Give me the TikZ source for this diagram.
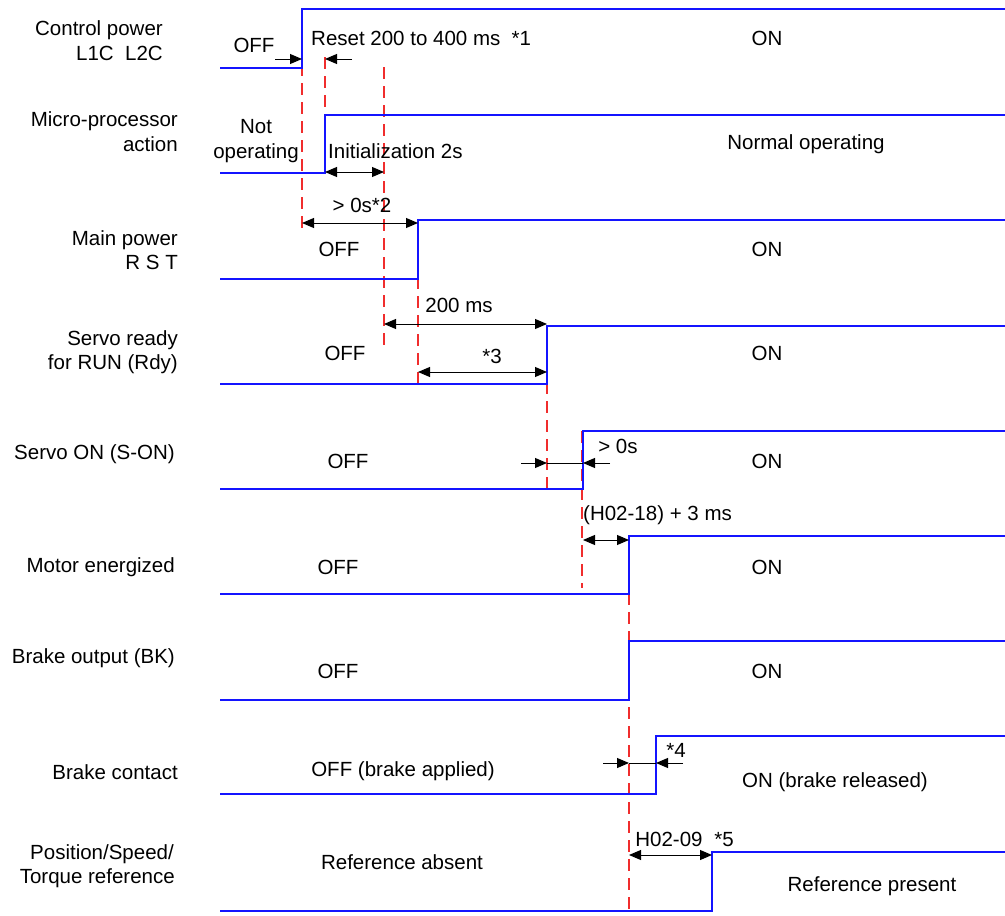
\documentclass[tikz,border=0pt]{standalone}
\usepackage{fontspec}
\setmainfont{Liberation Sans}
\usetikzlibrary{arrows.meta}
\definecolor{sig}{RGB}{20,20,255}
\definecolor{guidered}{RGB}{240,45,45}
\tikzset{
  sigline/.style={draw=sig,line width=2pt},
  guide/.style={draw=guidered,line width=1.2pt,dash pattern=on 12pt off 7pt},
  dim/.style={draw=black,line width=1pt,{Triangle[length=12pt,width=10pt]}-{Triangle[length=12pt,width=10pt]}},
  ptr/.style={draw=black,line width=1pt,-{Triangle[length=12pt,width=10pt]}},
  plainline/.style={draw=black,line width=1pt},
  lbl/.style={inner sep=0pt,anchor=base east},
  txt/.style={inner sep=0pt,anchor=base},
  txtw/.style={inner sep=0pt,anchor=base west},
}
\begin{document}
\begin{tikzpicture}[x=1pt,y=-1pt,every node/.style={font=\fontsize{20.5}{24}\selectfont}]
\useasboundingbox (0,0) rectangle (1005,916);

% guide lines (red dashed)
\draw[guide] (302,45) -- (302,233);
\draw[guide] (325,57) -- (325,173);
\draw[guide] (384,67) -- (384,350);
\draw[guide] (418,220) -- (418,388);
\draw[guide] (547,325) -- (547,488);
\draw[guide] (582,431) -- (582,588);
\draw[guide] (629,536) -- (629,916);

% signals
\draw[sigline] (220,68) -- (302,68) -- (302,9) -- (1005,9);
\draw[sigline] (220,173) -- (325,173) -- (325,115) -- (1005,115);
\draw[sigline] (220,279) -- (418,279) -- (418,220) -- (1005,220);
\draw[sigline] (220,384) -- (547,384) -- (547,326) -- (1005,326);
\draw[sigline] (220,489) -- (583,489) -- (583,431) -- (1005,431);
\draw[sigline] (220,594) -- (629,594) -- (629,536) -- (1005,536);
\draw[sigline] (220,700) -- (629,700) -- (629,641) -- (1005,641);
\draw[sigline] (220,794) -- (656,794) -- (656,736) -- (1005,736);
\draw[sigline] (220,911) -- (712,911) -- (712,852) -- (1005,852);

% left labels
\node[lbl] (l1a) at (163,35) {Control power};
\node[lbl] (l1b) at (163,60) {L1C\ \ L2C};
\node[lbl] (l2a) at (178,126) {Micro-processor};
\node[lbl] (l2b) at (178,151) {action};
\node[lbl] (l3a) at (178,245) {Main power};
\node[lbl] (l3b) at (178,269) {R S T};
\node[lbl] (l4a) at (178,345) {Servo ready};
\node[lbl] (l4b) at (178,369) {for RUN (Rdy)};
\node[lbl] (l5) at (175,459) {Servo ON (S-ON)};
\node[lbl] (l6) at (175,572) {Motor energized};
\node[lbl] (l7) at (175,663) {Brake output (BK)};
\node[lbl] (l8) at (178,779) {Brake contact};
\node[lbl] (l9a) at (174,859) {Position/Speed/};
\node[lbl] (l9b) at (175,883) {Torque reference};

% row 1
\node[txt] (r1off) at (254,52) {OFF};
\node[txtw] (r1reset) at (311,45) {Reset 200 to 400 ms\ \ *1};
\node[txt] (r1on) at (767,45) {ON};
\draw[ptr] (275,59) -- (302,59);
\draw[ptr] (352,59) -- (325,59);

% row 2
\node[txt] (r2a) at (256,133) {Not};
\node[txt] (r2b) at (256,158) {operating};
\node[txtw] (r2init) at (328,158) {Initialization 2s};
\node[txt] (r2on) at (806,149) {Normal operating};
\draw[dim] (325,172) -- (384,172);

% row 3
\node[txt] (r3dim) at (362,212) {> 0s*2};
\node[txt] (r3off) at (339,256) {OFF};
\node[txt] (r3on) at (767,256) {ON};
\draw[dim] (302,223) -- (418,223);

% row 4
\node[txt] (r4dim) at (459,312) {200 ms};
\node[txt] (r4off) at (345,360) {OFF};
\node[txt] (r4star) at (492,363) {*3};
\node[txt] (r4on) at (767,360) {ON};
\draw[dim] (384,324) -- (547,324);
\draw[dim] (418,372) -- (547,372);

% row 5
\node[txt] (r5off) at (348,468) {OFF};
\node[txt] (r5dim) at (618,453) {> 0s};
\node[txt] (r5on) at (767,468) {ON};
\draw[ptr] (521,463) -- (547,463);
\draw[ptr] (610,463) -- (583,463);
\draw[plainline] (547,463) -- (583,463);

% row 6
\node[txtw] (r6dim) at (583,520) {(H02-18) + 3 ms};
\node[txt] (r6off) at (338,574) {OFF};
\node[txt] (r6on) at (767,574) {ON};
\draw[dim] (583,540) -- (629,540);

% row 7
\node[txt] (r7off) at (338,678) {OFF};
\node[txt] (r7on) at (767,678) {ON};

% row 8
\node[txt] (r8off) at (403,776) {OFF (brake applied)};
\node[txt] (r8star) at (676,757) {*4};
\node[txt] (r8on) at (835,787) {ON (brake released)};
\draw[ptr] (603,763) -- (629,763);
\draw[ptr] (683,763) -- (656,763);
\draw[plainline] (629,763) -- (656,763);

% row 9
\node[txt] (r9dim) at (669,846) {H02-09};
\node[txt] (r9star) at (724,846) {*5};
\node[txt] (r9off) at (402,869) {Reference absent};
\node[txt] (r9on) at (872,891) {Reference present};
\draw[dim] (629,855) -- (712,855);
\end{tikzpicture}
\end{document}
